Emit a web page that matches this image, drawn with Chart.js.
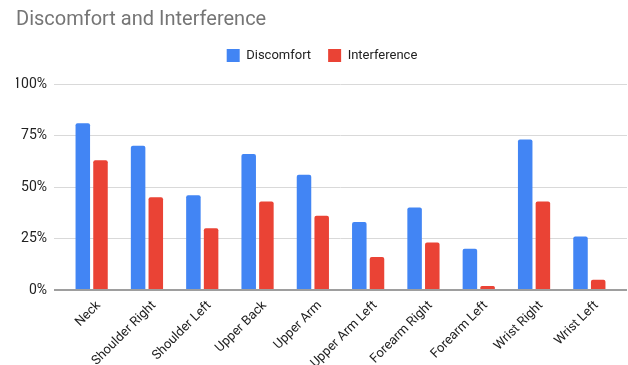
<!DOCTYPE html>
<html>
<head>
<meta charset="utf-8">
<script src="https://cdn.jsdelivr.net/npm/chart.js@4.4.1/dist/chart.umd.min.js"></script>
<style>
    html, body { margin: 0; padding: 0; background: #fff; }
</style>
</head>
<body>
<canvas id="grafico" width="628" height="365"></canvas>
<script>
window.onload = function () {
    init();
};

var bodyParts = ["Neck", "Shoulder Right", "Shoulder Left", "Upper Back", "Upper Arm",
    "Upper Arm Left", "Forearm Right", "Forearm Left", "Wrist Right", "Wrist Left"];
var discomfort = [81, 70, 46, 66, 56, 33, 40, 20, 73, 26];
var interference = [63, 45, 30, 43, 36, 16, 23, 2, 43, 5];
var yTicks = [0, 25, 50, 75, 100];

function init() {
    Chart.defaults.font.family = "Roboto, 'Liberation Sans', sans-serif";
    carregarGrafico();
}

// gridline colour, the zero line is darker
function gridColor(ctx) {
    return ctx.tick && ctx.tick.value === 0 ? "#9e9e9e" : "#d9d9d9";
}
function gridWidth(ctx) {
    return ctx.tick && ctx.tick.value === 0 ? 2 : 1;
}
function setTicks(scale) {
    scale.ticks = yTicks.map(function (v) { return { value: v }; });
}

// extra space under the legend
var legendMargin = {
    id: 'legendMargin',
    beforeInit: function (chart) {
        var fitOrig = chart.legend.fit;
        chart.legend.fit = function () {
            fitOrig.bind(chart.legend)();
            this.height += 12;
        };
    }
};

function carregarGrafico() {
    var ctx = document.getElementById("grafico");
    var chartGraph = new Chart(ctx, {
        type: 'bar',
        data: {
            labels: bodyParts,
            datasets: [{
                    label: "Discomfort",
                    data: discomfort,
                    backgroundColor: "#4285f4",
                    borderWidth: 0,
                    borderRadius: 2,
                    borderSkipped: 'start',
                    barPercentage: 0.82,
                    categoryPercentage: 0.64
                }, {
                    label: "Interference",
                    data: interference,
                    backgroundColor: "#ea4335",
                    borderWidth: 0,
                    borderRadius: 2,
                    borderSkipped: 'start',
                    barPercentage: 0.82,
                    categoryPercentage: 0.64
                }]
        },
        plugins: [legendMargin],
        options: {
            responsive: false,
            animation: false,
            layout: {padding: {left: 16, right: 0, top: 0, bottom: 0}},
            plugins: {
                title: {
                    display: true,
                    text: "Discomfort and Interference",
                    align: 'start',
                    color: "#757575",
                    font: {size: 20, weight: 'normal'},
                    padding: {top: 8, bottom: 0}
                },
                legend: {
                    position: 'top',
                    labels: {
                        boxWidth: 13,
                        boxHeight: 13,
                        padding: 17,
                        color: "#222",
                        font: {size: 13}
                    }
                },
                tooltip: {enabled: false}
            },
            scales: {
                x: {
                    grid: {display: false, drawTicks: false},
                    border: {display: false},
                    ticks: {
                        color: "#222",
                        font: {size: 13},
                        maxRotation: 45,
                        minRotation: 45,
                        padding: 8,
                        labelOffset: 7
                    },
                    afterFit: function (s) { s.height = 75; }
                },
                y: {
                    min: 0,
                    max: 100,
                    afterBuildTicks: setTicks,
                    grid: {color: gridColor, lineWidth: gridWidth, tickLength: 10, drawTicks: true},
                    border: {display: false},
                    ticks: {
                        color: "#222",
                        font: {size: 14},
                        padding: 7,
                        callback: function (v) { return v + "%"; }
                    },
                    afterFit: function (s) { s.width = 48; }
                },
                yR: {
                    position: 'right',
                    min: 0,
                    max: 100,
                    afterBuildTicks: setTicks,
                    grid: {color: gridColor, lineWidth: gridWidth, tickLength: 10, drawOnChartArea: false},
                    border: {display: false},
                    ticks: {display: false},
                    afterFit: function (s) { s.width = 11; }
                }
            }
        }
    });
}
</script>
</body>
</html>
